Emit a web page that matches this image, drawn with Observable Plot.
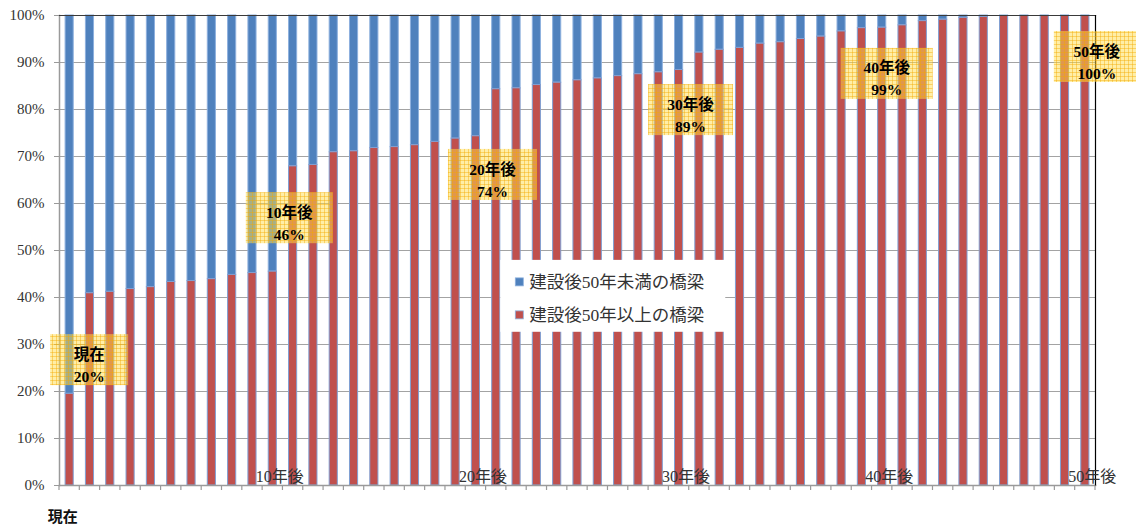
<!DOCTYPE html>
<html><head><meta charset="utf-8">
<script src="https://cdn.jsdelivr.net/npm/d3@7"></script>
<script src="https://cdn.jsdelivr.net/npm/@observablehq/plot@0.6"></script>
<style>body{margin:0;background:#fff}#chart svg{display:block}</style>
</head><body><div id="chart"></div>
<script>
// ---- data ----
const years = d3.range(0, 51); // 0 = 現在 ... 50 = 50年後
const over50 = [19.5, 40.9, 41.2, 41.8, 42.2, 43.3, 43.5, 43.9, 44.8, 45.2, 45.5,
  67.9, 68.2, 70.9, 71.1, 71.8, 72.0, 72.4, 73.1, 73.8, 74.3,
  84.3, 84.5, 85.2, 85.7, 86.2, 86.6, 87.1, 87.5, 87.9, 88.4,
  92.1, 92.7, 93.1, 94.0, 94.3, 95.0, 95.5, 96.6, 97.3, 97.4,
  97.9, 98.8, 99.1, 99.5, 99.7, 99.9, 100, 100, 100, 100];
const yTicks = [0, 10, 20, 30, 40, 50, 60, 70, 80, 90, 100];
const xLabelYears = [10, 20, 30, 40, 50];
const xLabels = ["10年後", "20年後", "30年後", "40年後", "50年後"];
const seriesNames = ["建設後50年未満の橋梁", "建設後50年以上の橋梁"];
const annoYears = [0, 10, 20, 30, 40, 50];
const annoTitles = ["現在", "10年後", "20年後", "30年後", "40年後", "50年後"];
const annoValues = ["20%", "46%", "74%", "89%", "99%", "100%"];

// ---- layout / style ----
const colors = ["#4F81BD", "#C0504D"];
const serif = "'Liberation Serif','DejaVu Serif','Noto Sans CJK JP',serif";
const sans = "'Noto Sans CJK JP','Noto Sans',sans-serif";
const annoLayout = [ // offset from bar center (px), top of box (%), width (px)
  {dx: 20, top: 32.1, w: 78},
  {dx: 17, top: 62.3, w: 87},
  {dx: 17, top: 71.5, w: 89},
  {dx: 12, top: 85.3, w: 85},
  {dx: 5,  top: 93.0, w: 92},
  {dx: 12, top: 96.6, w: 86}
];

const plot = Plot.plot({
  width: 1136, height: 526,
  marginLeft: 59, marginRight: 41, marginTop: 15, marginBottom: 41,
  style: {fontFamily: serif, background: "#fff", overflow: "visible"},
  x: {domain: years, paddingInner: 0.6, paddingOuter: 0.3, round: false, axis: null},
  y: {domain: [0, 100], axis: null},
  marks: [
    Plot.gridY(yTicks, {stroke: "#a3a3a3", strokeOpacity: 1, strokeWidth: 1.2}),
    Plot.barY(years, {x: d => d, y1: d => over50[d], y2: () => 100, fill: colors[0], stroke: "#8db0de", strokeWidth: 1}),
    Plot.barY(years, {x: d => d, y1: () => 0, y2: d => over50[d], fill: colors[1], stroke: "#7f9fd3", strokeWidth: 1}),
    Plot.frame({anchor: "left", stroke: "#9a9a9a", strokeWidth: 1.5}),
    Plot.frame({anchor: "bottom", stroke: "#9a9a9a", strokeWidth: 1.5}),
    Plot.frame({anchor: "top", stroke: "#3a3a3a", strokeWidth: 1.2}),
    Plot.frame({anchor: "right", stroke: "#000", strokeWidth: 1.2}),
    Plot.axisY(yTicks, {tickSize: 5, tickPadding: 10, stroke: "#9a9a9a", fill: "#333", fontSize: 15, tickFormat: d => d + "%"}),
    Plot.text(xLabelYears, {x: d => d, y: () => 0, text: (d, i) => xLabels[i], dy: -9, dx: 7, fontSize: 16, fill: "#333"}),
    Plot.text(["現在"], {x: () => 0, y: () => 0, text: d => d, dy: 32, dx: -7, fontSize: 15, fontWeight: "bold", fontFamily: sans, fill: "#111"})
  ]
});
document.getElementById("chart").appendChild(plot);

// ---- overlays positioned from the scales ----
const xs = plot.scale("x"), ys = plot.scale("y");
const svg = d3.select(plot);
const cx = v => xs.apply(v) + xs.bandwidth / 2;
const gap = xs.step - xs.bandwidth;

// category boundary ticks under the axis
const gt = svg.append("g");
for (let i = 0; i <= years.length; i++) {
  const bx = xs.apply(years[0]) - gap / 2 + i * xs.step;
  gt.append("line").attr("x1", bx).attr("x2", bx).attr("y1", ys.apply(0)).attr("y2", ys.apply(0) + 5)
    .attr("stroke", "#9a9a9a").attr("stroke-width", 1.2);
}

// legend (inside plot)
const lg = svg.append("g").attr("text-anchor", "start");
const lx0 = xs.apply(21) + xs.bandwidth + 0.5, lx1 = xs.apply(32) + xs.bandwidth + 2;
const ly0 = ys.apply(47.9), ly1 = ys.apply(32.6);
lg.append("rect").attr("x", lx0).attr("y", ly0).attr("width", lx1 - lx0).attr("height", ly1 - ly0).attr("fill", "#fff");
seriesNames.forEach((name, i) => {
  const yy = ly0 + 22 + i * 33;
  lg.append("rect").attr("x", lx0 + 15).attr("y", yy - 4).attr("width", 8).attr("height", 8).attr("fill", colors[i]).attr("stroke", "#8db0de").attr("stroke-width", 0.8);
  lg.append("text").attr("x", lx0 + 29).attr("y", yy).attr("dy", "0.36em").attr("text-anchor", "start").attr("font-size", 17.5).attr("fill", "#333")
    .attr("font-family", serif).text(name);
});

// annotation boxes
const defs = svg.append("defs");
const pat = defs.append("pattern").attr("id", "hatch").attr("width", 4).attr("height", 4).attr("patternUnits", "userSpaceOnUse");
pat.append("rect").attr("width", 4).attr("height", 4).attr("fill", "rgba(255,222,80,0.5)");
pat.append("path").attr("d", "M0,0.5H4M0.5,0V4").attr("stroke", "rgba(242,170,0,0.42)").attr("stroke-width", 1);
const ga = svg.append("g");
annoYears.forEach((yr, i) => {
  const L = annoLayout[i];
  const c = cx(yr) + L.dx, top = ys.apply(L.top), h = 51;
  ga.append("rect").attr("x", c - L.w / 2).attr("y", top).attr("width", L.w).attr("height", h).attr("fill", "url(#hatch)");
  [annoTitles[i], annoValues[i]].forEach((t, j) => {
    ga.append("text").attr("x", c).attr("y", top + 20 + j * 22).attr("dy", "0.36em").attr("text-anchor", "middle")
      .attr("font-size", 15.5).attr("font-weight", "bold").attr("font-family", serif).attr("fill", "#000").text(t);
  });
});
</script>
</body></html>
